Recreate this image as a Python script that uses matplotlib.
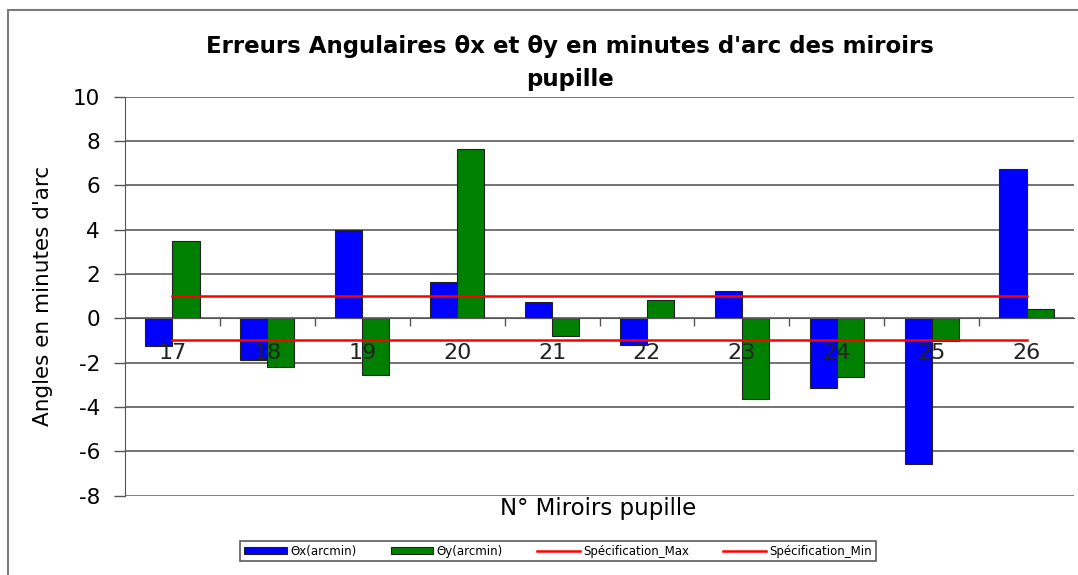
import numpy as np
import matplotlib.pyplot as plt
from matplotlib.patches import Rectangle

plt.rcParams['font.family'] = ['DejaVu Sans']
plt.rcParams['axes.unicode_minus'] = False

miroirs = ['17', '18', '19', '20', '21', '22', '23', '24', '25', '26']
theta_x = [-1.25, -1.9, 3.98, 1.65, 0.72, -1.2, 1.23, -3.16, -6.57, 6.73]
theta_y = [3.5, -2.18, -2.56, 7.64, -0.78, 0.83, -3.62, -2.65, -1.04, 0.41]
spec_max = [1.0] * len(miroirs)
spec_min = [-1.0] * len(miroirs)
y_ticks = [-8, -6, -4, -2, 0, 2, 4, 6, 8, 10]


def main():
    fig = plt.figure(figsize=(10.78, 5.75), dpi=100)
    # cadre du graphique
    fig.patches.append(Rectangle((8 / 1078, -0.05), 1.2, 1 - 10 / 575 + 0.05,
                                 transform=fig.transFigure, fill=False,
                                 edgecolor='#7a7a7a', linewidth=1.5))
    ax = fig.add_axes([125 / 1078, 79.4 / 575, 949 / 1078, 399 / 575])

    x = np.arange(len(miroirs))
    w = 0.286
    bx = ax.bar(x - w / 2, theta_x, w, color='#0000ff', edgecolor='#222222',
                linewidth=0.8, zorder=2)
    by = ax.bar(x + w / 2, theta_y, w, color='#008000', edgecolor='#222222',
                linewidth=0.8, zorder=2)
    lmax, = ax.plot(x, spec_max, color='#ff0000', linewidth=1.8, zorder=4)
    lmin, = ax.plot(x, spec_min, color='#ff0000', linewidth=1.8, zorder=4)

    ax.set_xlim(-0.5, len(miroirs) - 0.5)
    ax.set_ylim(-8, 10)
    ax.set_yticks(y_ticks)
    ax.tick_params(axis='y', labelsize=15.5, length=8, width=1, color='#555555', pad=10)
    ax.set_axisbelow(True)
    ax.yaxis.grid(True, color='#4d4d4d', linewidth=1.1)

    # axe des catégories à y = 0
    ax.spines['bottom'].set_position(('data', 0))
    ax.spines['bottom'].set_color('#555555')
    ax.spines['left'].set_color('#555555')
    ax.spines['top'].set_visible(False)
    ax.spines['right'].set_visible(False)
    ax.set_xticks(x, miroirs)
    ax.set_xticks(np.arange(0.5, len(miroirs) - 0.5, 1), minor=True)
    ax.tick_params(axis='x', which='major', length=0, labelsize=16, pad=18, labelcolor='#222222')
    ax.tick_params(axis='x', which='minor', length=6, width=1, color='#555555', direction='out')
    ax.xaxis.set_zorder(5)
    ax.axhline(-8, color='#888888', linewidth=1.2, zorder=1)

    ax.set_ylabel("Angles en minutes d'arc", fontsize=15.5, labelpad=14)
    fig.text(598 / 1078, 1 - 509 / 575, 'N° Miroirs pupille', ha='center', va='center', fontsize=16.5)
    fig.text(570 / 1078, 1 - 63 / 575,
             "Erreurs Angulaires θx et θy en minutes d'arc des miroirs\npupille",
             ha='center', va='center', fontsize=16.5, fontweight='bold', linespacing=1.6)

    leg = fig.legend([bx, by, lmax, lmin],
                     ['Θx(arcmin)', 'Θy(arcmin)', 'Spécification_Max', 'Spécification_Min'],
                     loc='center', bbox_to_anchor=(558 / 1078, 1 - 551 / 575), ncol=4,
                     fontsize=8.5, frameon=True, fancybox=False, edgecolor='#333333',
                     handlelength=3.6, handleheight=0.5, columnspacing=2.9,
                     borderpad=0.3, handletextpad=0.3)
    leg.get_frame().set_linewidth(1.2)

    fig.savefig('out.png', dpi=100)


if __name__ == '__main__':
    main()
